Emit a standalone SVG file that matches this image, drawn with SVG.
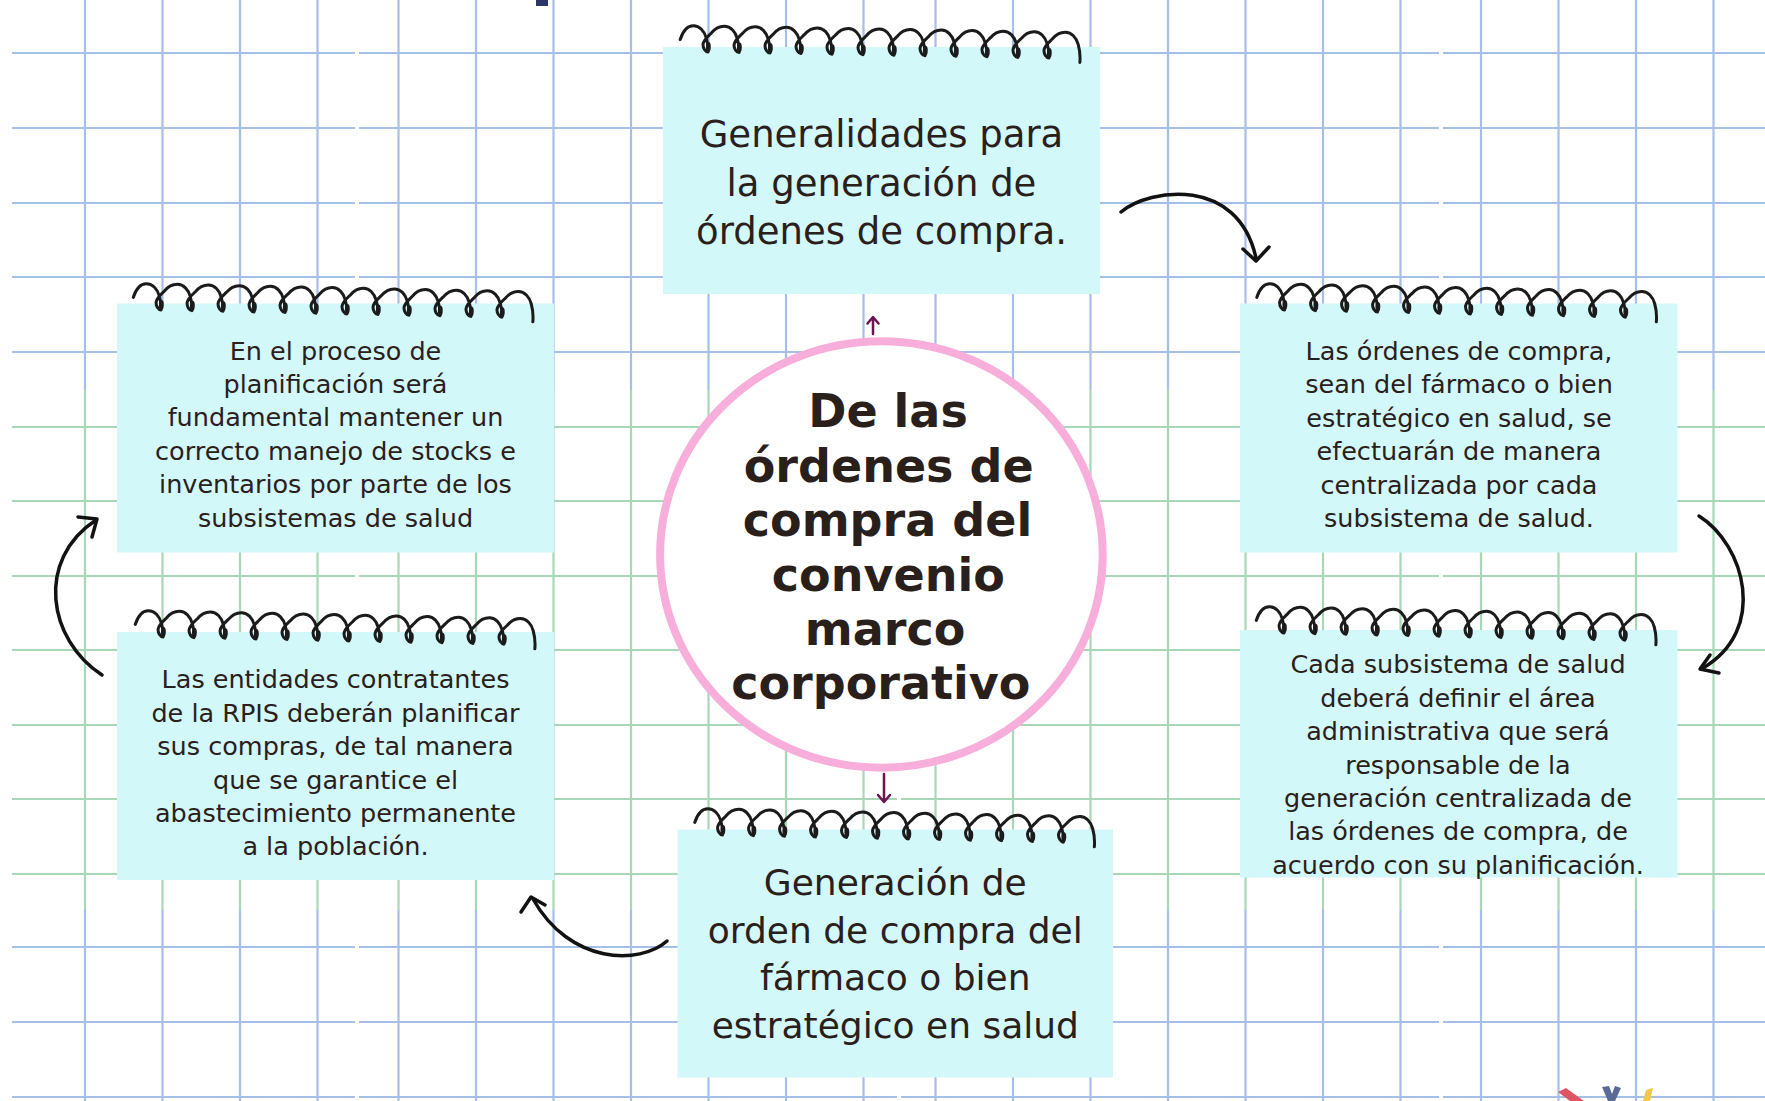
<svg xmlns="http://www.w3.org/2000/svg" xmlns:xlink="http://www.w3.org/1999/xlink" width="1765" height="1101" viewBox="0 0 1765 1101">
<defs>
<style>
.gb{stroke:#a6bfe7;stroke-width:2.2;fill:none}
.gg{stroke:#a8d7b8;stroke-width:2.2;fill:none}
.box{fill:#d3f8fa}
.t{font-family:"DejaVu Sans",Verdana,sans-serif;fill:#2a201b;text-anchor:middle}
.s{font-size:25.5px}
.m{font-size:37px}
.c{font-size:46px;font-weight:bold}
.coil{fill:none;stroke:#1b1b1b;stroke-width:3;stroke-linecap:round;stroke-linejoin:round}
.blob{fill:#1b1b1b}
.arr{fill:none;stroke:#121212;stroke-width:3.5;stroke-linecap:round;stroke-linejoin:round}
.parr{fill:none;stroke:#6b1450;stroke-width:2.5;stroke-linecap:round;stroke-linejoin:round}
</style>
<g id="coil">
<path class="coil" d="M -28,-12 C -25,-22 -20,-26 -15,-26 c 6,0 11,5 13,12 c 1.5,5 2.5,10 2,14
c -2.5,0 -5.5,-4 -5,-8 c 0.5,-4 4,-7 8,-11 c 4,-5 8,-7 13,-7 c 6,0 11,5 13,12 c 1.5,5 2.5,10 2,14
c -2.5,0 -5.5,-4 -5,-8 c 0.5,-4 4,-7 8,-11 c 4,-5 8,-7 13,-7 c 6,0 11,5 13,12 c 1.5,5 2.5,10 2,14
c -2.5,0 -5.5,-4 -5,-8 c 0.5,-4 4,-7 8,-11 c 4,-5 8,-7 13,-7 c 6,0 11,5 13,12 c 1.5,5 2.5,10 2,14
c -2.5,0 -5.5,-4 -5,-8 c 0.5,-4 4,-7 8,-11 c 4,-5 8,-7 13,-7 c 6,0 11,5 13,12 c 1.5,5 2.5,10 2,14
c -2.5,0 -5.5,-4 -5,-8 c 0.5,-4 4,-7 8,-11 c 4,-5 8,-7 13,-7 c 6,0 11,5 13,12 c 1.5,5 2.5,10 2,14
c -2.5,0 -5.5,-4 -5,-8 c 0.5,-4 4,-7 8,-11 c 4,-5 8,-7 13,-7 c 6,0 11,5 13,12 c 1.5,5 2.5,10 2,14
c -2.5,0 -5.5,-4 -5,-8 c 0.5,-4 4,-7 8,-11 c 4,-5 8,-7 13,-7 c 6,0 11,5 13,12 c 1.5,5 2.5,10 2,14
c -2.5,0 -5.5,-4 -5,-8 c 0.5,-4 4,-7 8,-11 c 4,-5 8,-7 13,-7 c 6,0 11,5 13,12 c 1.5,5 2.5,10 2,14
c -2.5,0 -5.5,-4 -5,-8 c 0.5,-4 4,-7 8,-11 c 4,-5 8,-7 13,-7 c 6,0 11,5 13,12 c 1.5,5 2.5,10 2,14
c -2.5,0 -5.5,-4 -5,-8 c 0.5,-4 4,-7 8,-11 c 4,-5 8,-7 13,-7 c 6,0 11,5 13,12 c 1.5,5 2.5,10 2,14
c -2.5,0 -5.5,-4 -5,-8 c 0.5,-4 4,-7 8,-11 c 4,-5 8,-7 13,-7 c 6,0 11,5 13,12 c 1.5,5 2.5,10 2,14
c -2.5,0 -5.5,-4 -5,-8 c 0.5,-4 4,-7 8,-11 c 4,-5 8,-7 13,-7 c 6,0 11,5 13,12 c 1.5,5 2.5,11 2,18"/>
<ellipse class="blob" cx="0.3" cy="-5" rx="2.4" ry="5"/>
<ellipse class="blob" cx="31.3" cy="-5" rx="2.4" ry="5"/>
<ellipse class="blob" cx="62.3" cy="-5" rx="2.4" ry="5"/>
<ellipse class="blob" cx="93.3" cy="-5" rx="2.4" ry="5"/>
<ellipse class="blob" cx="124.3" cy="-5" rx="2.4" ry="5"/>
<ellipse class="blob" cx="155.3" cy="-5" rx="2.4" ry="5"/>
<ellipse class="blob" cx="186.3" cy="-5" rx="2.4" ry="5"/>
<ellipse class="blob" cx="217.3" cy="-5" rx="2.4" ry="5"/>
<ellipse class="blob" cx="248.3" cy="-5" rx="2.4" ry="5"/>
<ellipse class="blob" cx="279.3" cy="-5" rx="2.4" ry="5"/>
<ellipse class="blob" cx="310.3" cy="-5" rx="2.4" ry="5"/>
<ellipse class="blob" cx="341.3" cy="-5" rx="2.4" ry="5"/>
</g>
</defs>

<rect x="0" y="0" width="1765" height="1101" fill="#ffffff"/>

<g id="grid">
<g class="gb">
<path d="M85,0V390M162.5,0V390M240,0V390M317.5,0V390M398.5,0V390M476,0V390M553.5,0V390M631,0V390M708.5,0V390M786,0V390M863.5,0V390M935.5,0V390M1013,0V390M1090.5,0V390M1168,0V390M1245.5,0V390M1323,0V390M1400.5,0V390M1481,0V390M1558.5,0V390M1636,0V390M1713.5,0V390"/>
<path d="M85,910V1101M162.5,910V1101M240,910V1101M317.5,910V1101M398.5,910V1101M476,910V1101M553.5,910V1101M631,910V1101M708.5,910V1101M786,910V1101M863.5,910V1101M935.5,910V1101M1013,910V1101M1090.5,910V1101M1168,910V1101M1245.5,910V1101M1323,910V1101M1400.5,910V1101M1481,910V1101M1558.5,910V1101M1636,910V1101M1713.5,910V1101"/>
<path d="M12,53H355M359,53H897M901,53H1439M1443,53H1765 M12,128H355M359,128H897M901,128H1439M1443,128H1765 M12,203H355M359,203H897M901,203H1439M1443,203H1765 M12,277H355M359,277H897M901,277H1439M1443,277H1765 M12,352H355M359,352H897M901,352H1439M1443,352H1765 M12,947H355M359,947H897M901,947H1439M1443,947H1765 M12,1022H355M359,1022H897M901,1022H1439M1443,1022H1765 M12,1097H355M359,1097H897M901,1097H1439M1443,1097H1765"/>
</g>
<g class="gg">
<path d="M85,390V910M162.5,390V910M240,390V910M317.5,390V910M398.5,390V910M476,390V910M553.5,390V910M631,390V910M708.5,390V910M786,390V910M863.5,390V910M935.5,390V910M1013,390V910M1090.5,390V910M1168,390V910M1245.5,390V910M1323,390V910M1400.5,390V910M1481,390V910M1558.5,390V910M1636,390V910M1713.5,390V910"/>
<path d="M12,427H355M359,427H897M901,427H1439M1443,427H1765 M12,501H355M359,501H897M901,501H1439M1443,501H1765 M12,576H355M359,576H897M901,576H1439M1443,576H1765 M12,650H355M359,650H897M901,650H1439M1443,650H1765 M12,725H355M359,725H897M901,725H1439M1443,725H1765 M12,799H355M359,799H897M901,799H1439M1443,799H1765 M12,874H355M359,874H897M901,874H1439M1443,874H1765"/>
</g>
</g>

<rect x="536" y="0" width="12" height="6" fill="#2b3566"/>
<g id="corner-marks">
<polygon points="1558,1092 1566,1088 1584,1101 1570,1101" fill="#e05563"/>
<polygon points="1602,1087 1609,1086 1612,1094 1615,1086 1621,1088 1615,1101 1608,1101" fill="#5a6a95"/>
<polygon points="1646,1090 1653,1088 1650,1101 1643,1101" fill="#f2c94c"/>
</g>

<g id="connectors">
<path class="arr" d="M1121,212 C1150,188 1238,176 1256,258"/>
<path class="arr" d="M1243,249 L1256,261 L1269,247"/>
<path class="arr" d="M1699,516 C1745,545 1768,630 1703,668"/>
<path class="arr" d="M1710,655 L1700,669 L1719,673"/>
<path class="arr" d="M667,941 C640,965 570,965 533,899"/>
<path class="arr" d="M521,912 L531,897 L545,905"/>
<path class="arr" d="M102,675 C48,640 35,560 96,520"/>
<path class="arr" d="M78,517 L97,519 L92,537"/>
<path class="parr" d="M873,334 V318 M867.5,323.5 L873,317 L878.5,323.5"/>
<path class="parr" d="M884,774 V801 M878,795 L884,802 L890,795"/>
</g>

<g id="node-top">
<rect class="box" x="663" y="47" width="437" height="247"/>
<use xlink:href="#coil" href="#coil" transform="translate(708,52) rotate(1)"/>
<text class="t m"><tspan x="881.5" y="147">Generalidades para</tspan><tspan x="881.5" y="195.5">la generación de</tspan><tspan x="881.5" y="244">órdenes de compra.</tspan></text>
</g>

<g id="node-upper-left">
<rect class="box" x="117" y="303.5" width="437" height="249"/>
<use xlink:href="#coil" href="#coil" transform="translate(161,310) rotate(1.2)"/>
<text class="t s"><tspan x="335.5" y="359.5">En el proceso de</tspan><tspan x="335.5" y="392.9">planificación será</tspan><tspan x="335.5" y="426.3">fundamental mantener un</tspan><tspan x="335.5" y="459.7">correcto manejo de stocks e</tspan><tspan x="335.5" y="493.1">inventarios por parte de los</tspan><tspan x="335.5" y="526.5">subsistemas de salud</tspan></text>
</g>

<g id="node-upper-right">
<rect class="box" x="1240" y="303.5" width="437.5" height="249"/>
<use xlink:href="#coil" href="#coil" transform="translate(1284.5,310) rotate(1.2)"/>
<text class="t s"><tspan x="1459" y="360">Las órdenes de compra,</tspan><tspan x="1459" y="393.4">sean del fármaco o bien</tspan><tspan x="1459" y="426.8">estratégico en salud, se</tspan><tspan x="1459" y="460.2">efectuarán de manera</tspan><tspan x="1459" y="493.6">centralizada por cada</tspan><tspan x="1459" y="527">subsistema de salud.</tspan></text>
</g>

<g id="node-lower-right">
<rect class="box" x="1240" y="630" width="437.5" height="247.5"/>
<use xlink:href="#coil" href="#coil" transform="translate(1284,633) rotate(1.2)"/>
<text class="t s"><tspan x="1458" y="673.3">Cada subsistema de salud</tspan><tspan x="1458" y="706.7">deberá definir el área</tspan><tspan x="1458" y="740.1">administrativa que será</tspan><tspan x="1458" y="773.5">responsable de la</tspan><tspan x="1458" y="806.9">generación centralizada de</tspan><tspan x="1458" y="840.3">las órdenes de compra, de</tspan><tspan x="1458" y="873.7">acuerdo con su planificación.</tspan></text>
</g>

<g id="node-lower-left">
<rect class="box" x="117" y="632" width="437" height="248"/>
<use xlink:href="#coil" href="#coil" transform="translate(163,637) rotate(1.2)"/>
<text class="t s"><tspan x="335.5" y="688.3">Las entidades contratantes</tspan><tspan x="335.5" y="721.7">de la RPIS deberán planificar</tspan><tspan x="335.5" y="755.1">sus compras, de tal manera</tspan><tspan x="335.5" y="788.5">que se garantice el</tspan><tspan x="335.5" y="821.9">abastecimiento permanente</tspan><tspan x="335.5" y="855.3">a la población.</tspan></text>
</g>

<g id="node-bottom">
<rect class="box" x="677.5" y="829.5" width="435.5" height="248"/>
<use xlink:href="#coil" href="#coil" transform="translate(722.5,835) rotate(1.2)"/>
<text class="t m" style="font-size:36px"><tspan x="895.3" y="895">Generación de</tspan><tspan x="895.3" y="942.5">orden de compra del</tspan><tspan x="895.3" y="990">fármaco o bien</tspan><tspan x="895.3" y="1037.5">estratégico en salud</tspan></text>
</g>

<g id="node-center">
<ellipse cx="881.4" cy="554.5" rx="221.3" ry="213.2" fill="#ffffff" stroke="#f8aedb" stroke-width="8"/>
<text class="t c"><tspan x="888" y="427.3">De las</tspan><tspan x="888.7" y="481.7">órdenes de</tspan><tspan x="887.5" y="536">compra del</tspan><tspan x="888.3" y="590.7">convenio</tspan><tspan x="885" y="645">marco</tspan><tspan x="880.8" y="699.3">corporativo</tspan></text>
</g>
</svg>
